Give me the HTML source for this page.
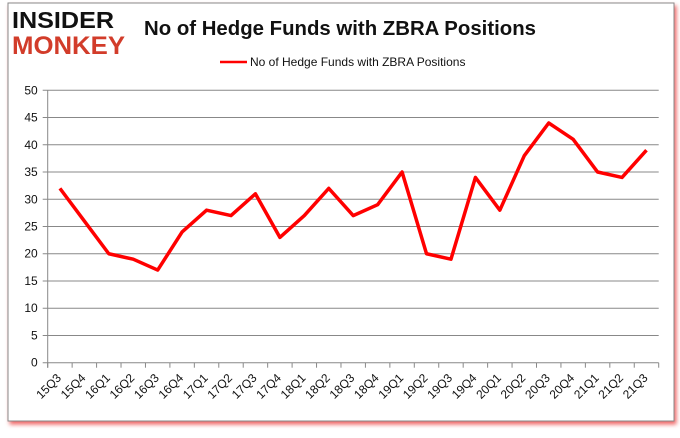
<!DOCTYPE html>
<html><head><meta charset="utf-8"><style>
body{margin:0;background:#fff;width:680px;height:433px;overflow:hidden;font-family:"Liberation Sans",sans-serif}
</style></head><body>
<svg width="680" height="433">
<rect x="8" y="3" width="666" height="418" fill="#fff" stroke="#888" stroke-width="1" style="filter:drop-shadow(2px 3px 2px rgba(230,0,0,0.6))"/>
<g font-weight="bold" font-family="'Liberation Sans',sans-serif">
<text x="12" y="28" font-size="23" fill="#111" textLength="102" lengthAdjust="spacingAndGlyphs">INSIDER</text>
<text x="12" y="54" font-size="25" fill="#d23c2a" textLength="113" lengthAdjust="spacingAndGlyphs">MONKEY</text>
</g>
<text x="340" y="35" text-anchor="middle" font-size="20" font-weight="bold" fill="#111" textLength="392" lengthAdjust="spacingAndGlyphs">No of Hedge Funds with ZBRA Positions</text>
<g>
<line x1="220" y1="62" x2="247" y2="62" stroke="#f00" stroke-width="2.5"/>
<text x="250" y="66" font-size="12" fill="#111">No of Hedge Funds with ZBRA Positions</text>
</g>
<g id="grid"></g><g id="axes"></g><g id="series"></g>
</svg>
<script>
const categories=["15Q3","15Q4","16Q1","16Q2","16Q3","16Q4","17Q1","17Q2","17Q3","17Q4","18Q1","18Q2","18Q3","18Q4","19Q1","19Q2","19Q3","19Q4","20Q1","20Q2","20Q3","20Q4","21Q1","21Q2","21Q3"];
const values=[32,26,20,19,17,24,28,27,31,23,27,32,27,29,35,20,19,34,28,38,44,41,35,34,39];
const yTicks=[0,5,10,15,20,25,30,35,40,45,50];
const NS="http://www.w3.org/2000/svg";
const L=47.7,R=658.7,T=90.3,B=362.7,yMax=50;
const bw=(R-L)/categories.length;
const xs=i=>L+bw*(i+0.5);
const ys=v=>B-(v/yMax)*(B-T);
function mk(tag,attrs,parent){const e=document.createElementNS(NS,tag);for(const k in attrs)e.setAttribute(k,attrs[k]);parent.appendChild(e);return e;}
const grid=document.getElementById('grid'),axes=document.getElementById('axes'),series=document.getElementById('series');
yTicks.forEach(t=>{
 const g=mk('line',{x1:L-5,x2:R,y1:ys(t),y2:ys(t),stroke:'#888','stroke-width':1},grid);
 
 
 const tx=mk('text',{x:L-10,y:ys(t)+4,'text-anchor':'end','font-size':12,fill:'#111'},axes);
 tx.textContent=t;
 
 
});
const ax=mk('line',{x1:L,x2:L,y1:T,y2:B+5,stroke:'#888'},axes);


for(let i=0;i<=categories.length;i++){
 const tk=mk('line',{x1:L+bw*i,x2:L+bw*i,y1:B,y2:B+5,stroke:'#888'},axes);
 
 
}
categories.forEach((c,i)=>{
 const x=xs(i)+2,y=B+16;
 const tx=mk('text',{x:x,y:y,'text-anchor':'end','font-size':12,fill:'#111',transform:`rotate(-45 ${x} ${y})`},axes);
 tx.textContent=c;
 
 
});
const p=mk('polyline',{points:values.map((v,i)=>xs(i)+','+ys(v)).join(' '),fill:'none',stroke:'#f00','stroke-width':3.5,'stroke-linejoin':'round'},series);


</script>
</body></html>
